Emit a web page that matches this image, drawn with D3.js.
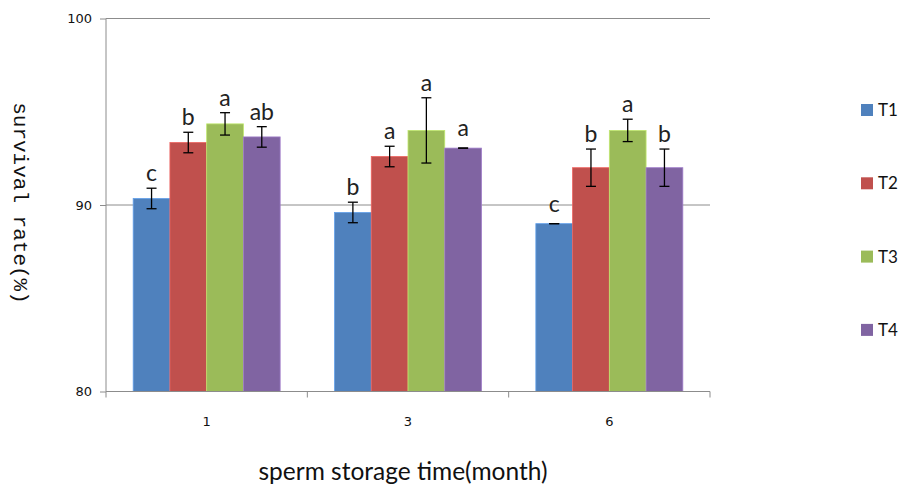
<!DOCTYPE html>
<html><head><meta charset="utf-8">
<script src="https://cdn.jsdelivr.net/npm/d3@7"></script>
<style>body{margin:0;background:#fff}svg{display:block}</style>
</head><body>
<script>
const categories = ["1", "3", "6"];
const seriesNames = ["T1", "T2", "T3", "T4"];
const seriesColors = ["#4F81BD", "#C0504D", "#9BBB59", "#8064A2"];
const T1 = [90.35, 89.6, 89.0];
const T2 = [93.35, 92.6, 92.0];
const T3 = [94.35, 94.0, 94.0];
const T4 = [93.65, 93.05, 92.0];
const T1err = [0.55, 0.55, 0.0];
const T2err = [0.55, 0.55, 1.0];
const T3err = [0.6, 1.75, 0.6];
const T4err = [0.55, 0.0, 1.0];
const T1sig = ["c", "b", "c"];
const T2sig = ["b", "a", "b"];
const T3sig = ["a", "a", "a"];
const T4sig = ["ab", "a", "b"];
const yTicks = [80, 90, 100];

const values = [T1, T2, T3, T4];
const errs = [T1err, T2err, T3err, T4err];
const sigs = [T1sig, T2sig, T3sig, T4sig];

const W = 902, H = 487;
const m = {left: 106, right: 192, top: 18.5, bottom: 95.5};
const svg = d3.select("body").append("svg").attr("width", W).attr("height", H);

const x0 = d3.scaleBand().domain(categories).range([m.left, W - m.right]).paddingInner(0.27).paddingOuter(0.135);
const x1 = d3.scaleBand().domain(seriesNames).range([0, x0.bandwidth()]);
const y = d3.scaleLinear().domain([80, 100]).range([H - m.bottom, m.top]);

// gridlines
svg.append("g").selectAll("line").data(yTicks.filter(d => d > 80)).join("line")
  .attr("x1", m.left).attr("x2", W - m.right)
  .attr("y1", d => y(d)).attr("y2", d => y(d))
  .attr("stroke", "#8c8c8c").attr("stroke-width", 1);

// bars
const rows = [];
categories.forEach((c, ci) => seriesNames.forEach((s, si) => rows.push({
  c, s, si, v: values[si][ci], e: errs[si][ci], sig: sigs[si][ci]
})));

svg.append("g").selectAll("rect").data(rows).join("rect")
  .attr("x", d => x0(d.c) + x1(d.s))
  .attr("width", x1.bandwidth())
  .attr("y", d => y(d.v))
  .attr("height", d => y(80) - y(d.v))
  .attr("fill", d => seriesColors[d.si])
  .attr("stroke", d => d3.color(seriesColors[d.si]).brighter(0.6))
  .attr("stroke-width", 0.8);

// error bars
const eg = svg.append("g").attr("stroke", "#000").attr("stroke-width", 1.3);
rows.forEach(d => {
  const cx = x0(d.c) + x1(d.s) + x1.bandwidth() / 2;
  const yt = y(d.v + d.e), yb = y(d.v - d.e);
  eg.append("line").attr("x1", cx).attr("x2", cx).attr("y1", yt).attr("y2", yb);
  eg.append("line").attr("x1", cx - 5).attr("x2", cx + 5).attr("y1", yt).attr("y2", yt);
  eg.append("line").attr("x1", cx - 5).attr("x2", cx + 5).attr("y1", yb).attr("y2", yb);
});

// significance letters
svg.append("g").selectAll("text").data(rows).join("text")
  .attr("x", d => x0(d.c) + x1(d.s) + x1.bandwidth() / 2)
  .attr("y", d => Math.min(y(d.v + d.e) - 7, y(d.v) - 12))
  .attr("text-anchor", "middle")
  .attr("font-family", "Lato, 'Open Sans', sans-serif")
  .attr("font-size", 23)
  .attr("fill", "#222")
  .text(d => d.sig);

// y axis
const yAxis = svg.append("g").attr("transform", `translate(${m.left},0)`)
  .call(d3.axisLeft(y).tickValues(yTicks).tickSize(6).tickPadding(8));
yAxis.select(".domain").attr("stroke", "#8c8c8c").attr("d", `M0,${y(100)}V${y(80)}`);
yAxis.selectAll(".tick line").attr("stroke", "#8c8c8c");
yAxis.selectAll("text").attr("font-family", "'DejaVu Sans', Verdana, sans-serif").attr("font-size", 13).attr("fill", "#111");

// x axis
const xg = svg.append("g").attr("transform", `translate(0,${y(80)})`);
xg.append("line").attr("x1", m.left).attr("x2", W - m.right).attr("stroke", "#8c8c8c");
const bounds = [m.left].concat(categories.map(c => x0(c) + x0.bandwidth() + x0.step() * x0.paddingInner() / 2));
bounds[bounds.length - 1] = W - m.right;
xg.selectAll("line.tk").data(bounds).join("line").attr("class", "tk")
  .attr("x1", d => d).attr("x2", d => d).attr("y1", 0).attr("y2", 6).attr("stroke", "#8c8c8c");
xg.selectAll("text").data(categories).join("text")
  .attr("x", d => x0(d) + x0.bandwidth() / 2).attr("y", 34)
  .attr("text-anchor", "middle")
  .attr("font-family", "'DejaVu Sans', Verdana, sans-serif").attr("font-size", 13).attr("fill", "#111")
  .text(d => d);

// axis titles
svg.append("text").attr("x", 403).attr("y", 480).attr("text-anchor", "middle")
  .attr("font-family", "Lato, 'Open Sans', sans-serif").attr("font-size", 24.5).attr("fill", "#111")
  .text("sperm storage time(month)");
svg.append("text").attr("transform", "translate(14,203) rotate(90)").attr("text-anchor", "middle")
  .attr("font-family", "'Liberation Mono', 'DejaVu Sans Mono', monospace").attr("font-size", 21).attr("fill", "#111")
  .text("survival rate(%)");

// legend
const lg = svg.append("g").selectAll("g").data(seriesNames).join("g")
  .attr("transform", (d, i) => `translate(861,${110 + i * 73.3})`);
lg.append("rect").attr("x", 0).attr("y", -6).attr("width", 12).attr("height", 12)
  .attr("fill", (d, i) => seriesColors[i]);
lg.append("text").attr("x", 17).attr("y", 0).attr("dy", "0.35em")
  .attr("font-family", "Lato, 'Open Sans', sans-serif").attr("font-size", 17).attr("fill", "#111")
  .text(d => d);
</script>
</body></html>
